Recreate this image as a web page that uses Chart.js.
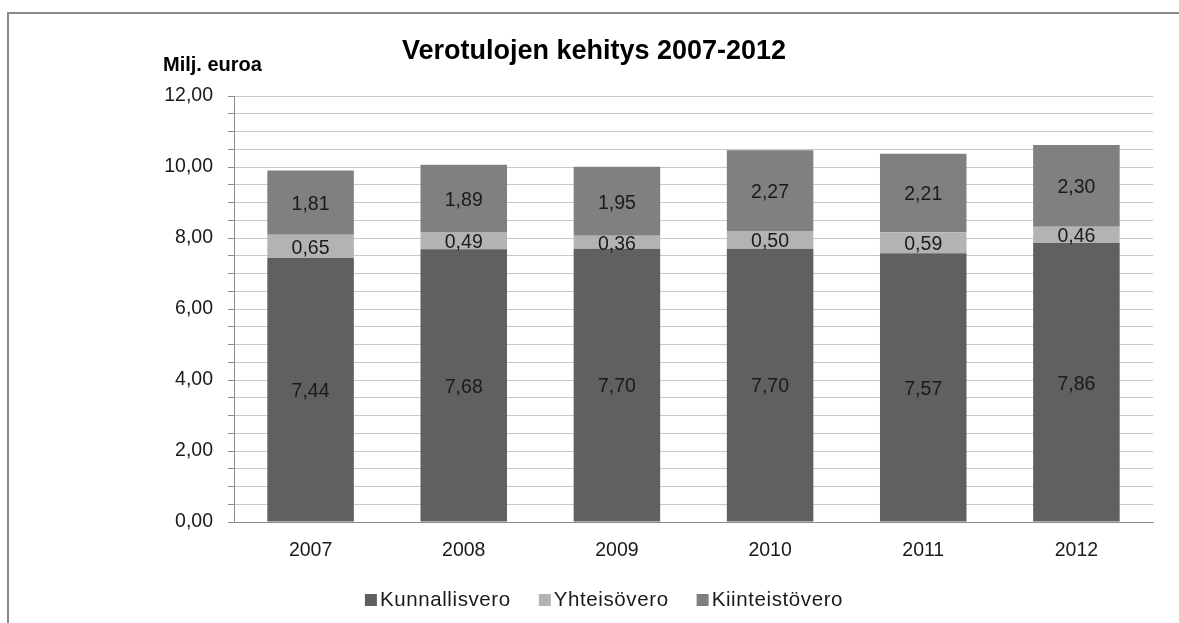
<!DOCTYPE html>
<html><head><meta charset="utf-8">
<script src="https://cdn.jsdelivr.net/npm/chart.js@4.4.1/dist/chart.umd.min.js"></script>
<style>
html,body{margin:0;padding:0;background:#fff;overflow:hidden;}
#wrap{position:relative;width:1179px;height:623px;overflow:hidden;}
#frame{position:absolute;left:7px;top:12px;width:1400px;height:900px;border:2px solid #8a8a8a;box-sizing:border-box;pointer-events:none;}
canvas{position:absolute;left:0;top:0;}
</style></head><body>
<div id="wrap"><div id="frame"></div><canvas id="c" width="1179" height="623"></canvas></div>
<script>
const chartTitle = 'Verotulojen kehitys 2007-2012';
const unitLabel = 'Milj. euroa';
const categories = ['2007', '2008', '2009', '2010', '2011', '2012'];
const seriesNames = ['Kunnallisvero', 'Yhteisövero', 'Kiinteistövero'];
const kunnallisvero = [7.44, 7.68, 7.70, 7.70, 7.57, 7.86];
const yhteisovero = [0.65, 0.49, 0.36, 0.50, 0.59, 0.46];
const kiinteistovero = [1.81, 1.89, 1.95, 2.27, 2.21, 2.30];
const yTickValues = [0, 2, 4, 6, 8, 10, 12];
const yTickLabels = ['0,00', '2,00', '4,00', '6,00', '8,00', '10,00', '12,00'];

const FONT = '"Liberation Sans", Arial, sans-serif';
const colors = ['#606060', '#b3b3b3', '#808080'];
const fmt = v => v.toFixed(2).replace('.', ',');

const overlay = {
  id: 'overlay',
  afterDatasetsDraw(chart) {
    const ctx = chart.ctx;
    ctx.save();
    ctx.font = '19.5px ' + FONT;
    ctx.fillStyle = '#1a1a1a';
    ctx.textAlign = 'center';
    ctx.textBaseline = 'middle';
    chart.data.datasets.forEach((ds, i) => {
      const meta = chart.getDatasetMeta(i);
      meta.data.forEach((el, j) => {
        ctx.fillText(fmt(ds.data[j]), el.x, (el.y + el.base) / 2 + 2);
      });
    });
    ctx.restore();
  },
  afterDraw(chart) {
    const ctx = chart.ctx;
    ctx.save();
    // title
    ctx.fillStyle = '#000';
    ctx.font = 'bold 27px ' + FONT;
    ctx.textAlign = 'center';
    ctx.textBaseline = 'alphabetic';
    ctx.fillText(chartTitle, 594, 59);
    // unit label
    ctx.font = 'bold 20px ' + FONT;
    ctx.textAlign = 'left';
    ctx.fillText(unitLabel, 163, 71);
    // legend
    ctx.font = '20.5px ' + FONT;
    if ('letterSpacing' in ctx) ctx.letterSpacing = '0.6px';
    const box = 12, gapBox = 3, gapItem = 28;
    const items = chart.data.datasets.map(ds => ({ label: ds.label, color: ds.backgroundColor, w: ctx.measureText(ds.label).width }));
    let total = items.reduce((s, it) => s + box + gapBox + it.w, 0) + gapItem * (items.length - 1);
    let x = 604 - total / 2;
    const baseY = 606;
    items.forEach(it => {
      ctx.fillStyle = it.color;
      ctx.fillRect(x, baseY - box, box, box);
      ctx.fillStyle = '#1a1a1a';
      ctx.fillText(it.label, x + box + gapBox, baseY);
      x += box + gapBox + it.w + gapItem;
    });
    ctx.restore();
  }
};

new Chart(document.getElementById('c'), {
  type: 'bar',
  data: {
    labels: categories,
    datasets: [
      { label: seriesNames[0], data: kunnallisvero, backgroundColor: colors[0] },
      { label: seriesNames[1], data: yhteisovero, backgroundColor: colors[1] },
      { label: seriesNames[2], data: kiinteistovero, backgroundColor: colors[2] }
    ]
  },
  options: {
    responsive: false,
    animation: false,
    devicePixelRatio: 1,
    layout: { padding: { top: 96, left: 0, right: 26, bottom: 0 } },
    datasets: { bar: { categoryPercentage: 1, barPercentage: 0.565, borderWidth: 0 } },
    plugins: { legend: { display: false }, title: { display: false }, tooltip: { enabled: false } },
    scales: {
      x: {
        stacked: true,
        grid: { display: false, drawTicks: false },
        border: { display: true, color: '#8c8c8c', width: 1 },
        ticks: { color: '#1a1a1a', font: { family: FONT, size: 19.5 }, padding: 17, maxRotation: 0 },
        afterFit(scale) { scale.height = 101; }
      },
      y: {
        stacked: true,
        min: 0, max: 12,
        grid: { color: '#c8c8c8', lineWidth: 1, tickLength: 6, tickColor: '#8c8c8c', drawTicks: true },
        border: { display: true, color: '#8c8c8c', width: 1 },
        ticks: {
          stepSize: 0.5, autoSkip: false, padding: 15,
          color: '#1a1a1a', font: { family: FONT, size: 19.5 },
          callback: v => { const k = yTickValues.indexOf(v); return k >= 0 ? yTickLabels[k] : ''; }
        },
        afterFit(scale) { scale.width = 234; }
      }
    }
  },
  plugins: [overlay]
});
</script>
</body></html>
